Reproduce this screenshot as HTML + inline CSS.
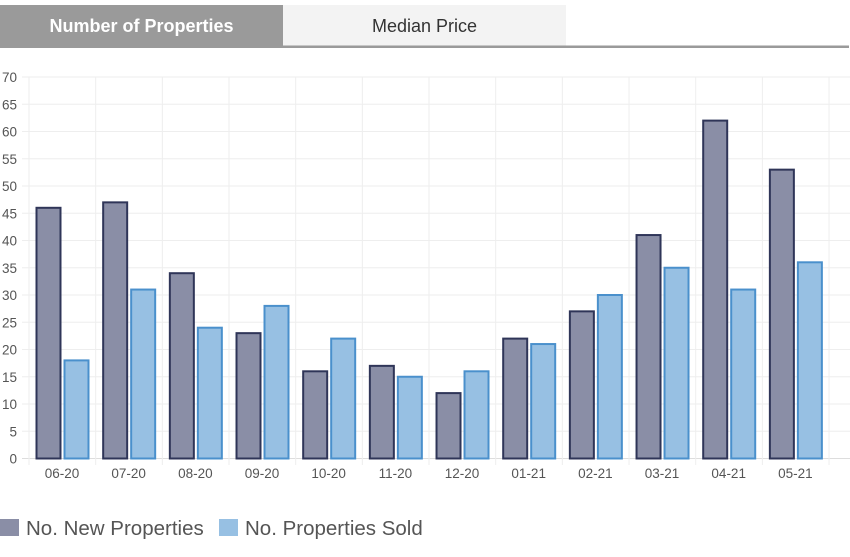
<!DOCTYPE html>
<html><head><meta charset="utf-8"><style>
body{margin:0;width:850px;height:552px;background:#fff;overflow:hidden;font-family:"Liberation Sans",sans-serif}
</style></head><body>
<svg width="850" height="552" xmlns="http://www.w3.org/2000/svg">
<rect x="0" y="5" width="283" height="41" fill="#9a9a9a"/>
<text x="141.5" y="32" text-anchor="middle" font-size="18" font-weight="bold" fill="#fff" font-family="Liberation Sans,sans-serif">Number of Properties</text>
<rect x="283" y="5" width="283" height="41" fill="#f3f3f3"/>
<text x="424.5" y="32" text-anchor="middle" font-size="18" fill="#333" font-family="Liberation Sans,sans-serif">Median Price</text>
<rect x="0" y="45.5" width="849" height="2.5" fill="#9a9a9a"/>
<g id="g"></g>
</svg>
<script>
const g=document.getElementById('g');let s='';
const y0=458.5,k=381.5/70;
for(let v=0;v<=70;v+=5){const y=y0-v*k;s+=`<line x1="22" x2="850" y1="${y}" y2="${y}" stroke="${v==0?'#ddd':'#eee'}" stroke-width="1"/>`;
s+=`<text x="17" y="${y+5}" text-anchor="end" font-size="13.5" fill="#555">${v}</text>`;}
const L=['06-20','07-20','08-20','09-20','10-20','11-20','12-20','01-21','02-21','03-21','04-21','05-21'];
const A=[46,47,34,23,16,17,12,22,27,41,62,53],B=[18,31,24,28,22,15,16,21,30,35,31,36];
const w=66.67;
for(let i=0;i<=12;i++){const x=29+i*w;s+=`<line x1="${x}" x2="${x}" y1="77" y2="465" stroke="#eee"/>`;}
for(let i=0;i<12;i++){const x=29+i*w;
s+=`<rect x="${x+7.5}" y="${y0-A[i]*k}" width="24" height="${A[i]*k}" fill="#8a8ea6" stroke="#2f3558" stroke-width="2"/>`;
s+=`<rect x="${x+35.5}" y="${y0-B[i]*k}" width="24" height="${B[i]*k}" fill="#97c0e3" stroke="#4a90cc" stroke-width="2"/>`;
s+=`<text x="${x+33}" y="478" text-anchor="middle" font-size="13.5" fill="#555">${L[i]}</text>`;}
s+=`<rect x="0" y="519" width="19" height="17" fill="#8a8ea6"/><text x="26" y="535" font-size="20.5" fill="#555">No. New Properties</text>`;
s+=`<rect x="219" y="519" width="19" height="17" fill="#97c0e3"/><text x="245" y="535" font-size="20.5" fill="#555">No. Properties Sold</text>`;
g.innerHTML=s;
</script>
</body></html>
